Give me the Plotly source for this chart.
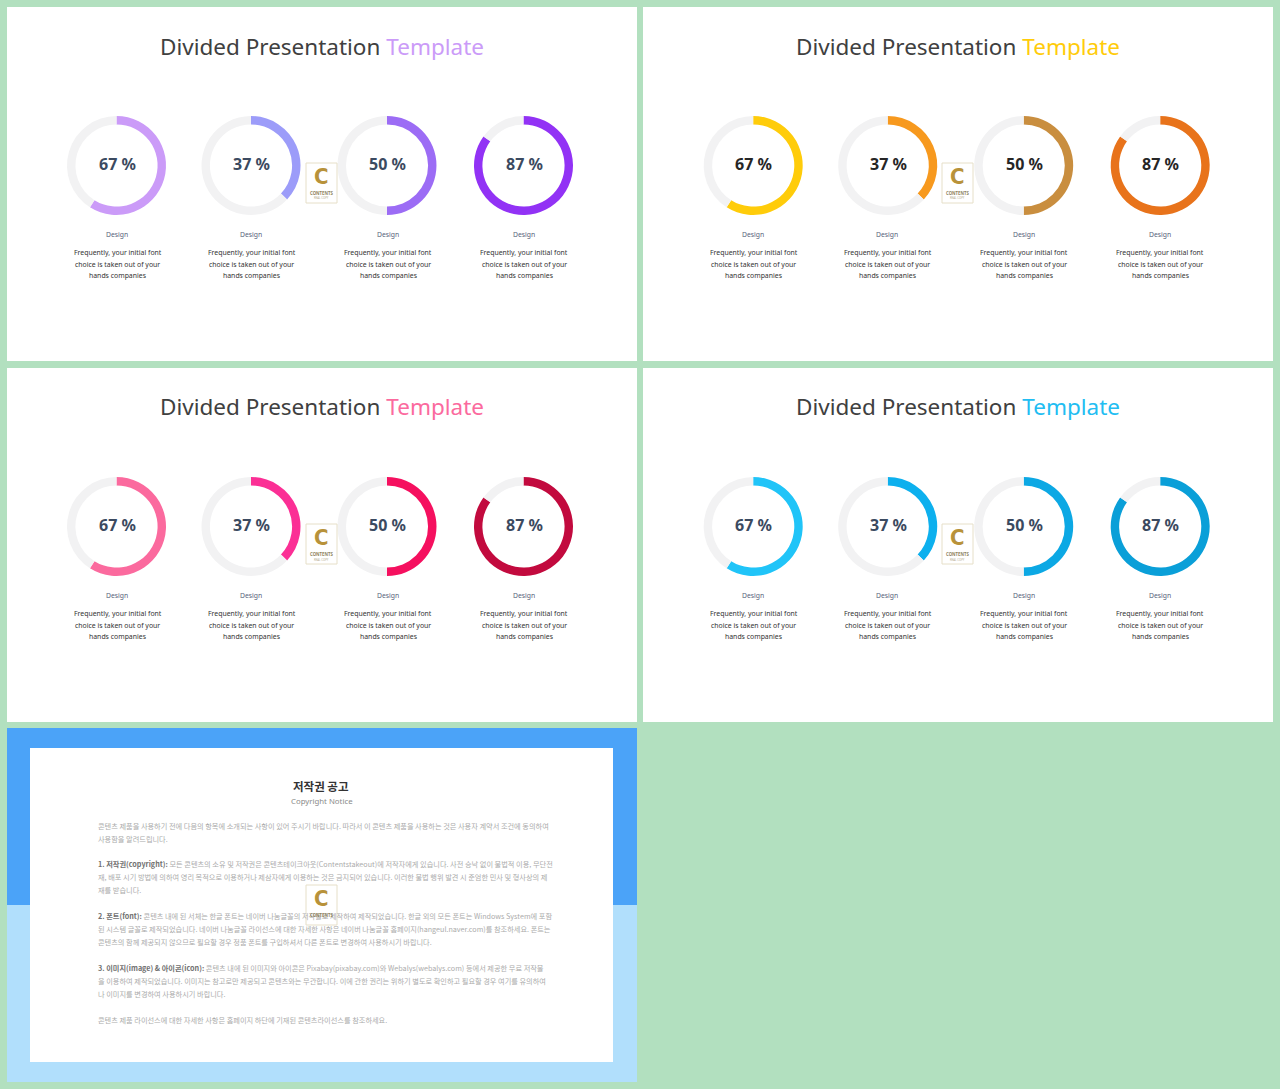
import plotly.graph_objects as go

W = 1280
H = 1089

# chart data
percents = [67, 37, 50, 87]
# the drawn arcs don't follow the printed labels exactly
arc_values = [59, 37, 50, 85]
title_dark = "Divided Presentation"
title_accent = "Template"
item_label = "Design"
item_lines = ["Frequently, your initial font", "choice is taken out of your", "hands companies"]
logo_letter = "C"
logo_word = "CONTENTS"
logo_sub = "REAL COPY"

accents = ["#CB9BF8", "#FFCC0A", "#FB6A9E", "#22BDF2"]
percent_colors = ["#3B4A60", "#262626", "#3B4A60", "#3B4A60"]
ring_colors = [
    ["#CB9BF8", "#9C9CF9", "#9C6CF5", "#9232F5"],
    ["#FFCC0A", "#F7991E", "#C98E3F", "#E8731B"],
    ["#FB6A9E", "#FB2F95", "#F5105F", "#C20A3E"],
    ["#20C4F8", "#0DB0EE", "#0CA8E4", "#0A9FD8"],
]

notice_title = "저작권 공고"
notice_sub = "Copyright Notice"
notice_lines = [
    "콘텐츠 제품을 사용하기 전에 다음의 항목에 소개되는 사항이 있어 주시기 바랍니다. 따라서 이 콘텐츠 제품을 사용하는 것은 사용자 계약서 조건에 동의하여",
    "사용함을 알려드립니다.",
    "<b>1. 저작권(copyright):</b> 모든 콘텐츠의 소유 및 저작권은 콘텐츠테이크아웃(Contentstakeout)에 저작자에게 있습니다. 사전 승낙 없이 불법적 이용, 무단전",
    "재, 배포 시기 방법에 의하여 영리 목적으로 이용하거나 제삼자에게 이용하는 것은 금지되어 있습니다. 이러한 불법 행위 발견 시 준엄한 민사 및 형사상의 제",
    "재를 받습니다.",
    "<b>2. 폰트(font):</b> 콘텐츠 내에 된 서체는 한글 폰트는 네이버 나눔글꼴의 저작물로 제작하여 제작되었습니다. 한글 외의 모든 폰트는 Windows System에 포함",
    "된 시스템 글꼴로 제작되었습니다. 네이버 나눔글꼴 라이선스에 대한 자세한 사항은 네이버 나눔글꼴 홈페이지(hangeul.naver.com)를 참조하세요. 폰트는",
    "콘텐츠의 함께 제공되지 않으므로 필요할 경우 정품 폰트를 구입하셔서 다른 폰트로 변경하여 사용하시기 바랍니다.",
    "<b>3. 이미지(image) & 아이콘(icon):</b> 콘텐츠 내에 된 이미지와 아이콘은 Pixabay(pixabay.com)와 Webalys(webalys.com) 등에서 제공한 무료 저작물",
    "을 이용하여 제작되었습니다. 이미지는 참고로만 제공되고 콘텐츠와는 무관합니다. 이에 관한 권리는 위하기 별도로 확인하고 필요할 경우 여기를 유의하여",
    "나 이미지를 변경하여 사용하시기 바랍니다.",
    "콘텐츠 제품 라이선스에 대한 자세한 사항은 홈페이지 하단에 기재된 콘텐츠라이선스를 참조하세요.",
]
notice_y = [825.5, 838.5, 864, 877, 890, 916, 929, 942, 968, 981, 994, 1020]

LATIN = "Noto Sans"
KR = "Noto Sans CJK KR"
CONDENSED = "DejaVu Sans Condensed, Liberation Sans"
TRACK = "#F2F2F3"


def px(x):
    return x / W


def py(y):
    return 1 - y / H


def rect(x0, y0, x1, y1, fill, line=None, layer="below"):
    return dict(type="rect", xref="paper", yref="paper", x0=px(x0), x1=px(x1), y0=py(y0), y1=py(y1),
                fillcolor=fill, line=dict(width=1 if line else 0, color=line or fill), layer=layer)


def text(x, y, s, size, color, family=LATIN, anchor="center"):
    return dict(xref="paper", yref="paper", x=px(x), y=py(y), text=s, showarrow=False, xanchor=anchor,
                yanchor="middle", font=dict(size=size, color=color, family=family))


def logo(dx, dy, alpha, with_sub=True):
    shapes.append(rect(dx + 306, dy + 163, dx + 337, dy + 203, f"rgba(255,255,255,{alpha})", "#E6DFC8", "above"))
    annotations.append(text(dx + 321.5, dy + 176.5, f"<b>{logo_letter}</b>", 22, "#B8923A", CONDENSED))
    annotations.append(text(dx + 321.5, dy + 193, f"<b>{logo_word}</b>", 4.3, "#8F8460"))
    if with_sub:
        annotations.append(text(dx + 321.5, dy + 198.5, logo_sub, 2.8, "#B5AD90"))


fig = go.Figure()
shapes = []
annotations = []

panel_x = [7, 643, 7, 643]
panel_y = [7, 7, 368, 368]
ring_x = [116.5, 251, 387, 523.5]
text_x = [117.5, 251.5, 388, 524]

for p in range(4):
    left = panel_x[p]
    top = panel_y[p]
    dx = left - 7
    dy = top - 7
    shapes.append(rect(left, top, left + 630, top + 354, "white"))
    annotations.append(text(dx + 322, top + 39,
                            f'{title_dark} <span style="color:{accents[p]}">{title_accent}</span>',
                            22.5, "#404040"))
    for i, value in enumerate(percents):
        cx = dx + ring_x[i] + (0.7 if dx else 0)
        cy = dy + 165.5
        r = 49.5
        arc = arc_values[i]
        fig.add_trace(go.Pie(values=[arc, 100 - arc], sort=False, direction="clockwise", rotation=0,
                             hole=0.83, textinfo="none", hoverinfo="skip", showlegend=False,
                             marker=dict(colors=[ring_colors[p][i], TRACK], line=dict(width=0)),
                             domain=dict(x=[px(cx - r), px(cx + r)], y=[py(cy + r), py(cy - r)])))
        annotations.append(text(cx + 0.5, cy - 2, f"<b>{value} %</b>", 16, percent_colors[p]))
        annotations.append(text(dx + text_x[i] - 0.5, dy + 234.5, item_label, 6.8, "#56627A"))
        for j, line in enumerate(item_lines):
            annotations.append(text(dx + text_x[i], dy + 252.5 + j * 11.5, line, 6.9, "#333333"))
    logo(dx, dy, 0.85)

# copyright slide
shapes.append(rect(7, 728, 637, 905, "#4BA3F8"))
shapes.append(rect(7, 905, 637, 1082, "#B1DFFC"))
shapes.append(rect(30, 748, 613, 1062, "white"))
annotations.append(text(321, 786, f"<b>{notice_title}</b>", 11.5, "#333333", KR))
annotations.append(text(321.5, 801, notice_sub, 7.8, "#8A8A8A"))
for y, line in zip(notice_y, notice_lines):
    line = line.replace("<b>", '<b><span style="color:#707070">').replace("</b>", "</span></b>")
    annotations.append(text(95.5, y, line, 7.2, "#ABABAB", KR, "left"))
logo(0, 722, 0.55, with_sub=False)

fig.update_layout(width=W, height=H, autosize=False, margin=dict(l=0, r=0, t=0, b=0),
                  paper_bgcolor="#B2E0BF", plot_bgcolor="#B2E0BF",
                  shapes=shapes, annotations=annotations, showlegend=False)

fig.write_html("out.html", config=dict(displayModeBar=False),
               post_script="document.body.style.margin='0';document.body.style.overflow='hidden';")
